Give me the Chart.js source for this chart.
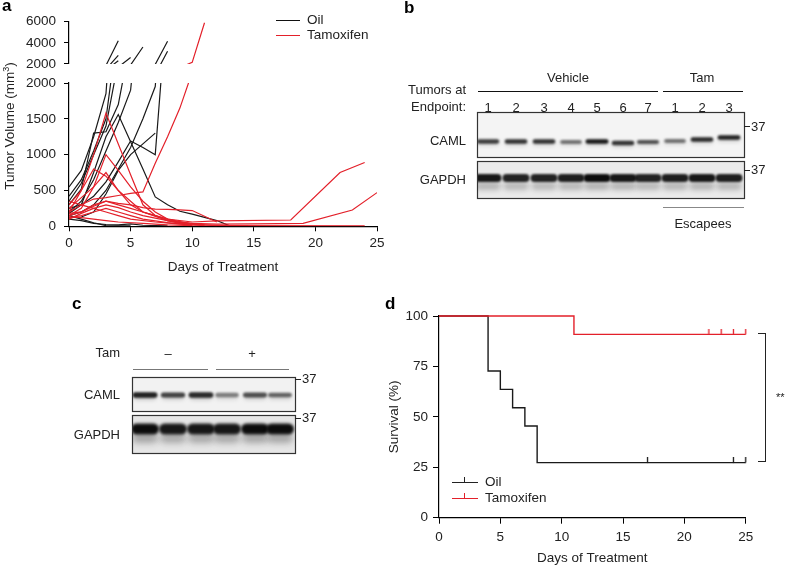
<!DOCTYPE html>
<html>
<head>
<meta charset="utf-8">
<script src="https://cdn.jsdelivr.net/npm/chart.js@4/dist/chart.umd.min.js"></script>
<style>
  html,body{margin:0;padding:0;background:#fff;}
  body{width:787px;height:568px;position:relative;overflow:hidden;font-family:"Liberation Sans",Arial,sans-serif;color:#222;font-size:13px;}
  .abs{position:absolute;white-space:nowrap;}
  .lbl{font-weight:bold;font-size:17px;color:#000;}
  canvas{position:absolute;}
  .hl{position:absolute;height:0;border-top:1px solid #111;}
</style>
</head>
<body>
<canvas id="blots" width="787" height="568" style="left:0;top:0"></canvas>
<canvas id="aLow" width="400" height="280" style="left:0;top:0"></canvas>
<canvas id="aUp" width="400" height="80" style="left:0;top:0"></canvas>
<canvas id="dChart" width="407" height="278" style="left:380px;top:290px"></canvas>

<!-- panel a text -->
<div class="abs lbl" style="left:2px;top:-4px">a</div>
<div class="abs" style="left:9px;top:126px;transform:translate(-50%,-50%) rotate(-90deg);font-size:13.5px">Tumor Volume (mm<sup style="font-size:9px">3</sup>)</div>
<div class="hl" style="left:276px;top:20px;width:24px"></div>
<div class="abs" style="left:307px;top:12px;font-size:13.5px">Oil</div>
<div class="hl" style="left:276px;top:35px;width:24px;border-color:#e3202a"></div>
<div class="abs" style="left:307px;top:27px;font-size:13.5px">Tamoxifen</div>

<!-- panel b text -->
<div class="abs lbl" style="left:404px;top:-2px">b</div>
<div class="abs" style="left:568px;top:77px;transform:translate(-50%,-50%)">Vehicle</div>
<div class="abs" style="left:702px;top:77px;transform:translate(-50%,-50%)">Tam</div>
<div class="hl" style="left:478px;top:91px;width:180px"></div>
<div class="hl" style="left:663px;top:91px;width:80px"></div>
<div class="abs" style="right:321px;top:82px;text-align:right">Tumors at</div>
<div class="abs" style="right:321px;top:99px;text-align:right">Endpoint:</div>
<div id="bNums"></div>
<div class="abs" style="right:321px;top:133px">CAML</div>
<div class="abs" style="right:321px;top:172px">GAPDH</div>
<div class="abs" style="left:751px;top:119px">37</div>
<div class="abs" style="left:751px;top:162px">37</div>
<div class="hl" style="left:663px;top:207px;width:81px;border-top:1.5px solid #888"></div>
<div class="abs" style="left:703px;top:223px;transform:translate(-50%,-50%)">Escapees</div>

<!-- panel c text -->
<div class="abs lbl" style="left:72px;top:294px">c</div>
<div class="abs" style="right:667px;top:345px">Tam</div>
<div class="abs" style="left:168px;top:353px;transform:translate(-50%,-50%)">–</div>
<div class="abs" style="left:252px;top:353px;transform:translate(-50%,-50%)">+</div>
<div class="hl" style="left:133px;top:369px;width:75px;border-top:1.5px solid #777"></div>
<div class="hl" style="left:216px;top:369px;width:73px;border-top:1.5px solid #777"></div>
<div class="abs" style="right:667px;top:387px">CAML</div>
<div class="abs" style="right:667px;top:427px">GAPDH</div>
<div class="abs" style="left:302px;top:371px">37</div>
<div class="abs" style="left:302px;top:410px">37</div>

<!-- panel d text -->
<div class="abs lbl" style="left:385px;top:294px">d</div>
<div class="hl" style="left:452px;top:482px;width:26px;border-color:#222"></div>
<div style="position:absolute;left:464px;top:477px;width:0;height:5px;border-left:1px solid #222"></div>
<div class="abs" style="left:485px;top:474px;font-size:13.5px">Oil</div>
<div class="hl" style="left:452px;top:498px;width:26px;border-color:#e3202a"></div>
<div style="position:absolute;left:464px;top:493px;width:0;height:5px;border-left:1px solid #e3202a"></div>
<div class="abs" style="left:485px;top:490px;font-size:13.5px">Tamoxifen</div>
<div style="position:absolute;left:758px;top:333px;width:8px;height:129px;border:1.5px solid #222;border-left:none;box-sizing:border-box"></div>
<div class="abs" style="left:776px;top:391px;font-size:11px">**</div>

<script>
// ---- panel a: tumor volume per mouse (days, mm^3) ----
const oilDays = [
  [0,1,2,3,4],
  [0,1,2,3,4],
  [0,1,2,3,4,5],
  [0,1,2,3,4,5,6,7,8,9,10,12,13],
  [0,1,2,3,4,5,6,7,8],
  [0,1,2,3,4,5,6,7],
  [0,1,2,3,4,5,6,7,8],
  [0,1,2,3,4,5],
  [0,1,2,3,4,5,6],
  [0,1,2,3,4,5,6,8],
  [0,1,2,3,4]
];
const oilVolumes = [
  [550,780,1250,1850,4200],
  [420,650,1050,1500,2800],
  [300,520,1300,1320,1700,2600],
  [180,300,750,1250,1560,1180,800,410,300,210,170,80,10],
  [250,300,420,620,900,1190,1100,1000,3200],
  [120,130,200,450,780,1000,1150,1300],
  [150,200,300,500,800,1100,1500,1950,4150],
  [150,100,50,10,5,5],
  [200,350,650,1050,1450,1900,3600],
  [100,80,40,25,20,35,15,5],
  [350,600,1000,1400,2300]
];
const tamDays = [
  [0,1,2,3,4,5,6,7,8,9,10],
  [0,1,2,3,4,5,6,7,8,10,12],
  [0,1,2,3,4,5,6,8,10],
  [0,1,2,3,4,5,6,7,9,11],
  [0,1,2,3,4,5,6,7,8,9,10,11],
  [0,1,2,3,4,5,6,7,8,10,12,18,22,24],
  [0,1,2,3,4,5,6,8,10,12,15,19,23,25],
  [0,1,2,3,4,5,6,7,8,9,10,12],
  [0,1,2,3,4,5,6,8,10,13,24],
  [0,1,2,3,4,5,7,9,11],
  [0,1,2,3,4,6,8,10]
];
const tamVolumes = [
  [200,500,1000,1580,1150,720,300,150,80,40,20],
  [150,250,550,1000,780,550,350,200,100,30,10],
  [300,500,800,700,500,350,200,80,20],
  [250,400,550,750,500,300,200,150,50,20],
  [200,300,380,400,430,460,480,880,1250,1650,2150,5900],
  [150,200,300,350,300,250,200,150,100,60,75,88,750,890],
  [100,180,250,300,260,200,150,80,40,30,35,42,228,470],
  [180,200,280,350,320,300,260,240,235,230,220,60],
  [120,150,200,250,200,150,100,50,20,10,5],
  [350,300,250,200,150,100,60,30,10],
  [130,120,100,80,60,40,20,10]
];
const volTicksLow = [0,500,1000,1500,2000];
const volTicksUp = [2000,4000,6000];

// ---- panel d: Kaplan-Meier ----
const oilTimes = [0,4,5,6,7,8,25];
const oilSurvival = [100,72.7,63.6,54.5,45.5,27.3,27.3];
const oilCensored = [17,24,25];
const tamTimes = [0,11,25];
const tamSurvival = [100,90.9,90.9];
const tamCensored = [22,23,24,25];

// ---- panels b, c: band intensities per lane ----
const bCaml = [0.8,0.85,0.85,0.55,0.98,0.85,0.7,0.55,0.88,0.92];
const bGapdh = [0.95,0.9,0.9,0.92,1,0.95,0.9,0.92,0.95,0.92];
const cCaml = [0.95,0.78,0.9,0.5,0.72,0.62];
const cGapdh = [1,0.95,0.95,0.95,1,1];

const RED = '#e3202a', BLK = '#1a1a1a';
const FONT = {family:'"Liberation Sans", Arial, sans-serif', size:13.5};

function volSets(days, vols, color){
  return vols.map((v,i)=>({
    data: v.map((y,j)=>({x:days[i][j], y})),
    borderColor: color, borderWidth: 1.2, pointRadius: 0, tension: 0
  }));
}
function allVolSets(){
  return volSets(tamDays, tamVolumes, RED).concat(volSets(oilDays, oilVolumes, BLK));
}
function axisBase(){
  return {
    grid:{drawOnChartArea:false, drawTicks:true, tickLength:5, color:'#000'},
    border:{display:true, color:'#000', width:1.2},
    ticks:{color:'#222', font:FONT, callback:v=>String(v)}
  };
}

// lower part of the broken axis
const lowY = axisBase();
Object.assign(lowY, {min:0, max:2000, afterFit:s=>{s.width=69;},
  afterBuildTicks:s=>{s.ticks=volTicksLow.map(v=>({value:v}));}});
lowY.ticks.padding = 8;
const lowX = axisBase();
Object.assign(lowX, {type:'linear', min:0, max:25, afterFit:s=>{s.height=53.7;},
  title:{display:true, text:'Days of Treatment', color:'#222', font:FONT, padding:{top:0,bottom:5}}});
lowX.ticks.stepSize = 5; lowX.ticks.padding = 4;

new Chart(document.getElementById('aLow'), {
  type:'line',
  data:{datasets: allVolSets()},
  options:{
    responsive:false, animation:false,
    layout:{padding:{left:0,right:23,top:83,bottom:0}},
    plugins:{legend:{display:false}, tooltip:{enabled:false}},
    scales:{x:lowX, y:lowY}
  }
});

const upY = axisBase();
Object.assign(upY, {min:2000, max:6000, afterFit:s=>{s.width=69;},
  afterBuildTicks:s=>{s.ticks=volTicksUp.map(v=>({value:v}));}});
upY.ticks.padding = 8;

new Chart(document.getElementById('aUp'), {
  type:'line',
  data:{datasets: allVolSets()},
  options:{
    responsive:false, animation:false,
    layout:{padding:{left:0,right:23,top:21.7,bottom:15}},
    plugins:{legend:{display:false}, tooltip:{enabled:false}},
    scales:{x:{type:'linear', min:0, max:25, display:false}, y:upY}
  }
});

// ---- panel d ----
function survAt(times, surv, t){
  let s = surv[0];
  times.forEach((tt,i)=>{ if(tt<=t) s = surv[i]; });
  return s;
}
function tickImg(color){
  const c = document.createElement('canvas');
  c.width = 3; c.height = 11;
  const g = c.getContext('2d');
  g.strokeStyle = color; g.lineWidth = 1.3;
  g.beginPath(); g.moveTo(1.5,0); g.lineTo(1.5,5.5); g.stroke();
  return c;
}
const dY = axisBase();
Object.assign(dY, {min:0, max:100, afterFit:s=>{s.width=59;},
  title:{display:true, text:'Survival (%)', color:'#222', font:FONT, padding:{top:6,bottom:0}}});
dY.ticks.stepSize = 25; dY.ticks.padding = 5; dY.grid.tickLength = 6;
const dX = axisBase();
Object.assign(dX, {type:'linear', min:0, max:25, afterFit:s=>{s.height=50.3;},
  title:{display:true, text:'Days of Treatment', color:'#222', font:FONT, padding:{top:0,bottom:2}}});
dX.ticks.stepSize = 5; dX.ticks.padding = 5; dX.grid.tickLength = 6;

new Chart(document.getElementById('dChart'), {
  type:'line',
  data:{datasets:[
    {data: tamCensored.map(t=>({x:t, y:survAt(tamTimes,tamSurvival,t)})), showLine:false,
      pointStyle: tickImg(RED), pointRadius:5, clip:false},
    {data: oilCensored.map(t=>({x:t, y:survAt(oilTimes,oilSurvival,t)})), showLine:false,
      pointStyle: tickImg(BLK), pointRadius:5, clip:false},
    {data: tamTimes.map((t,i)=>({x:t, y:tamSurvival[i]})), stepped:'before',
      borderColor:RED, borderWidth:1.4, pointRadius:0, clip:false},
    {data: oilTimes.map((t,i)=>({x:t, y:oilSurvival[i]})), stepped:'before',
      borderColor:BLK, borderWidth:1.4, pointRadius:0, clip:false}
  ]},
  options:{
    responsive:false, animation:false,
    layout:{padding:{left:0,right:41.3,top:26,bottom:0}},
    plugins:{legend:{display:false}, tooltip:{enabled:false}},
    scales:{x:dX, y:dY}
  }
});

// ---- blots (panels b and c) ----
const bLaneX = [488,516,544,571,597,623,648,675,702,729];
const bCamlY = [141.5,141.5,141.5,142,141.5,143,142,141,139.5,137.5];
const cLaneX = [145,173,201,227,255,280];

const ctx = document.getElementById('blots').getContext('2d');
function bandShape(cx, cy, w, h, a, blur){
  ctx.save();
  ctx.filter = 'blur(' + blur + 'px)';
  ctx.fillStyle = 'rgba(12,12,12,' + a + ')';
  ctx.beginPath();
  ctx.roundRect(cx - w/2, cy - h/2, w, h, h/2);
  ctx.fill();
  ctx.restore();
}
function blotBox(x, y, w, h, bg, drawBands){
  ctx.save();
  ctx.beginPath(); ctx.rect(x, y, w, h); ctx.clip();
  ctx.fillStyle = bg; ctx.fillRect(x, y, w, h);
  drawBands();
  ctx.restore();
  ctx.strokeStyle = '#333'; ctx.lineWidth = 1.2;
  ctx.strokeRect(x + 0.5, y + 0.5, w, h);
}
function marker(x, y){
  ctx.strokeStyle = '#222'; ctx.lineWidth = 1;
  ctx.beginPath(); ctx.moveTo(x, y + 0.5); ctx.lineTo(x + 6, y + 0.5); ctx.stroke();
}

blotBox(477, 112, 267, 45, '#f4f4f4', ()=>{
  bLaneX.forEach((x,i)=>{
    const a = bCaml[i];
    bandShape(x, bCamlY[i] + 1.5, 22, 5, a*0.2, 2);
    bandShape(x, bCamlY[i], 20 + a*3, 3 + a*1.6, a*0.95, 1);
  });
});
blotBox(477, 161, 267, 37, '#eaeaea', ()=>{
  bGapdh.forEach((a,i)=>{
    const x = bLaneX[i];
    bandShape(x, 186, 25, 8, a*0.25, 2.5);
    bandShape(x, 178, 27, 8, a, 1.3);
  });
});
marker(744, 126); marker(744, 170);

blotBox(132, 377, 163, 34, '#f2f2f2', ()=>{
  cCaml.forEach((a,i)=>{
    const x = cLaneX[i];
    bandShape(x, 397, 22, 5, a*0.25, 2);
    bandShape(x, 395, 22 + a*3, 3.5 + a*2, a*0.95, 1.1);
  });
});
blotBox(132, 415, 163, 38, '#e6e6e6', ()=>{
  cGapdh.forEach((a,i)=>{
    const x = cLaneX[i];
    bandShape(x, 438, 26, 10, a*0.3, 3);
    bandShape(x, 429, 28, 11, a, 1.5);
  });
});
marker(295, 379); marker(295, 418);

// lane numbers for panel b
const nums = ['1','2','3','4','5','6','7','1','2','3'];
document.getElementById('bNums').innerHTML = nums.map((n,i)=>
  '<div class="abs" style="left:' + bLaneX[i] + 'px;top:107px;transform:translate(-50%,-50%)">' + n + '</div>'
).join('');
</script>
</body>
</html>
